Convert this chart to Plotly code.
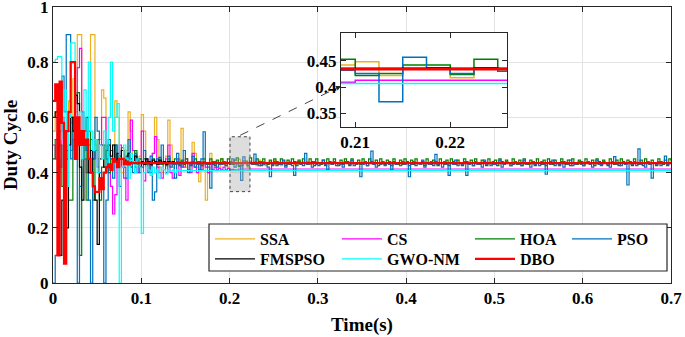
import numpy as np
import plotly.graph_objects as go

DT = 0.0025
T_END = 0.7

NAMES = ["SSA", "CS", "HOA", "PSO", "FMSPSO", "GWO-NM", "DBO"]
COLORS = ["#EDB120", "#FF00FF", "#008000", "#0072BD", "#000000", "#00FFFF", "#FF0000"]

SSA = [0.55, 0.62, 0.48, 0.70, 0.52, 0.60, 0.45, 0.66, 0.58, 0.74,
       0.62, 0.90, 0.90, 0.55, 0.48, 0.52, 0.60, 0.90, 0.90, 0.50,
       0.45, 0.52, 0.70, 0.67, 0.48, 0.42, 0.45, 0.50, 0.66, 0.60,
       0.45, 0.40, 0.44, 0.48, 0.62, 0.55, 0.44, 0.40, 0.43, 0.46,
       0.61, 0.55, 0.43, 0.41, 0.44, 0.47, 0.60, 0.52, 0.42, 0.40,
       0.44, 0.46, 0.59, 0.50, 0.42, 0.40, 0.43, 0.45, 0.56, 0.48,
       0.42, 0.41, 0.44, 0.51, 0.47, 0.42, 0.367, 0.41, 0.44, 0.30,
       0.40, 0.47, 0.44, 0.43, 0.44, 0.42, 0.45, 0.43, 0.44, 0.42,
       0.44, 0.43, 0.445, 0.442, 0.448, 0.422, 0.436, 0.436, 0.418, 0.436,
       0.43, 0.44, 0.425, 0.445, 0.43, 0.44, 0.425, 0.435, 0.44, 0.43,
       0.445, 0.43, 0.435, 0.425, 0.44, 0.435, 0.43, 0.44, 0.435, 0.43,
       0.44, 0.435, 0.43, 0.44, 0.435, 0.44, 0.43, 0.435, 0.44, 0.435, 0.435]

CS = [0.50, 0.45, 0.55, 0.42, 0.60, 0.50, 0.45, 0.55, 0.48, 0.52,
      0.60, 0.78, 0.85, 0.50, 0.45, 0.40, 0.50, 0.52, 0.45, 0.48,
      0.42, 0.50, 0.60, 0.60, 0.45, 0.40, 0.35, 0.25, 0.32, 0.45,
      0.50, 0.42, 0.38, 0.30, 0.45, 0.59, 0.48, 0.42, 0.40, 0.45,
      0.55, 0.37, 0.45, 0.43, 0.40, 0.47, 0.53, 0.42, 0.40, 0.38,
      0.44, 0.45, 0.50, 0.40, 0.38, 0.43, 0.45, 0.39, 0.44, 0.42,
      0.45, 0.41, 0.40, 0.47, 0.42, 0.40, 0.43, 0.41, 0.44, 0.42,
      0.40, 0.43, 0.41, 0.42, 0.41, 0.415, 0.41, 0.42, 0.41, 0.415,
      0.41, 0.412, 0.41, 0.409, 0.413]

HOA = [0.45, 0.52, 0.40, 0.50, 0.35, 0.55, 0.48, 0.30, 0.30, 0.60,
       0.68, 0.69, 0.10, 0.45, 0.52, 0.30, 0.55, 0.40, 0.30, 0.48,
       0.52, 0.30, 0.42, 0.50, 0.45, 0.40, 0.48, 0.44, 0.50, 0.42,
       0.46, 0.49, 0.43, 0.45, 0.47, 0.42, 0.44, 0.48, 0.43, 0.45,
       0.44, 0.45, 0.43, 0.44, 0.425, 0.45, 0.44, 0.43, 0.455, 0.43,
       0.44, 0.425, 0.45, 0.435, 0.43, 0.45, 0.44, 0.425, 0.445, 0.43,
       0.45, 0.435, 0.425, 0.44, 0.45, 0.43, 0.44, 0.425, 0.45, 0.435,
       0.43, 0.45, 0.44, 0.425, 0.445, 0.43, 0.45, 0.435, 0.425, 0.45,
       0.44, 0.43, 0.445, 0.453, 0.422, 0.426, 0.442, 0.442, 0.424, 0.453,
       0.435, 0.43, 0.45, 0.44, 0.425, 0.45, 0.435, 0.43, 0.445, 0.425,
       0.45, 0.44, 0.43, 0.45, 0.435, 0.425, 0.445, 0.43, 0.45, 0.44,
       0.425, 0.445, 0.43, 0.45, 0.435, 0.43, 0.45, 0.44, 0.425, 0.45,
       0.435, 0.43, 0.445, 0.425, 0.45, 0.44, 0.43, 0.45, 0.435, 0.425,
       0.445, 0.43, 0.45, 0.44, 0.425, 0.45, 0.435, 0.43, 0.445, 0.43,
       0.45, 0.435, 0.425, 0.45, 0.44, 0.43, 0.445, 0.425, 0.45, 0.435,
       0.43, 0.445, 0.44, 0.425, 0.45, 0.435, 0.43, 0.445, 0.43, 0.45,
       0.44, 0.425, 0.445, 0.43, 0.45, 0.435, 0.43, 0.44, 0.425, 0.45,
       0.435, 0.43, 0.445, 0.44, 0.425, 0.45, 0.435, 0.43, 0.445, 0.425,
       0.45, 0.44, 0.43, 0.445, 0.435, 0.425, 0.45, 0.44, 0.43, 0.445,
       0.425, 0.45, 0.435, 0.43, 0.445, 0.44, 0.425, 0.45, 0.435, 0.43,
       0.445, 0.425, 0.45, 0.44, 0.43, 0.445, 0.435, 0.425, 0.45, 0.44,
       0.43, 0.445, 0.425, 0.45, 0.435, 0.43, 0.445, 0.44, 0.425, 0.45,
       0.435, 0.43, 0.445, 0.425, 0.45, 0.44, 0.43, 0.445, 0.435, 0.425,
       0.45, 0.44, 0.43, 0.445, 0.425, 0.45, 0.435, 0.43, 0.445, 0.44,
       0.425, 0.45, 0.435, 0.43, 0.445, 0.425, 0.45, 0.44, 0.43, 0.445,
       0.435, 0.425, 0.45, 0.44, 0.43, 0.445, 0.425, 0.45, 0.435, 0.43,
       0.445, 0.44, 0.425, 0.45, 0.435, 0.43, 0.445, 0.425, 0.45, 0.44,
       0.43, 0.445, 0.435, 0.425, 0.45, 0.44, 0.43, 0.445, 0.425, 0.45, 0.44]

PSO = [0.0, 0.1, 0.1, 0.55, 0.75, 0.62, 0.9, 0.9, 0.45, 0.6,
       0.5, 0.0, 0.35, 0.62, 0.55, 0.48, 0.3, 0.0, 0.45, 0.6,
       0.55, 0.4, 0.35, 0.0, 0.3, 0.52, 0.45, 0.38, 0.5, 0.44,
       0.35, 0.48, 0.42, 0.38, 0.52, 0.44, 0.4, 0.47, 0.44, 0.4,
       0.42, 0.48, 0.44, 0.4, 0.46, 0.3, 0.33, 0.45, 0.43, 0.5,
       0.44, 0.4, 0.46, 0.42, 0.44, 0.38, 0.47, 0.43, 0.42, 0.48,
       0.44, 0.4, 0.43, 0.46, 0.42, 0.44, 0.41, 0.45, 0.548, 0.43,
       0.42, 0.344, 0.43, 0.44, 0.42, 0.435, 0.43, 0.44, 0.425, 0.435,
       0.43, 0.45, 0.42, 0.432, 0.426, 0.372, 0.457, 0.437, 0.426, 0.437,
       0.43, 0.467, 0.43, 0.425, 0.44, 0.43, 0.435, 0.42, 0.385, 0.43,
       0.44, 0.425, 0.435, 0.43, 0.445, 0.42, 0.435, 0.43, 0.425, 0.39,
       0.435, 0.44, 0.43, 0.425, 0.47, 0.43, 0.435, 0.42, 0.44, 0.43,
       0.425, 0.435, 0.445, 0.43, 0.41, 0.435, 0.43, 0.44, 0.425, 0.435,
       0.43, 0.42, 0.44, 0.435, 0.43, 0.445, 0.425, 0.43, 0.435, 0.385,
       0.43, 0.44, 0.425, 0.435, 0.478, 0.43, 0.42, 0.435, 0.43, 0.44,
       0.425, 0.435, 0.43, 0.41, 0.44, 0.43, 0.435, 0.425, 0.44, 0.43,
       0.435, 0.385, 0.43, 0.44, 0.425, 0.435, 0.43, 0.445, 0.42, 0.435,
       0.43, 0.44, 0.425, 0.466, 0.43, 0.435, 0.42, 0.44, 0.43, 0.39,
       0.435, 0.43, 0.445, 0.425, 0.435, 0.43, 0.44, 0.39, 0.43, 0.435,
       0.425, 0.44, 0.43, 0.435, 0.42, 0.445, 0.43, 0.435, 0.425, 0.44,
       0.43, 0.435, 0.445, 0.42, 0.43, 0.44, 0.435, 0.425, 0.43, 0.44,
       0.435, 0.43, 0.425, 0.445, 0.43, 0.435, 0.42, 0.44, 0.43, 0.435,
       0.425, 0.44, 0.43, 0.394, 0.435, 0.43, 0.445, 0.425, 0.435, 0.43,
       0.44, 0.42, 0.435, 0.43, 0.445, 0.425, 0.43, 0.435, 0.44, 0.43,
       0.425, 0.435, 0.44, 0.43, 0.42, 0.435, 0.445, 0.43, 0.425, 0.44,
       0.435, 0.43, 0.42, 0.44, 0.458, 0.43, 0.435, 0.425, 0.44, 0.43,
       0.355, 0.435, 0.43, 0.44, 0.425, 0.486, 0.43, 0.435, 0.42, 0.44,
       0.43, 0.38, 0.435, 0.43, 0.44, 0.425, 0.435, 0.46, 0.43, 0.435, 0.43]

FMSPSO = [0.60, 0.62, 0.45, 0.10, 0.30, 0.45, 0.20, 0.50, 0.60, 0.55,
          0.68, 0.65, 0.42, 0.30, 0.55, 0.60, 0.40, 0.48, 0.35, 0.30,
          0.14, 0.45, 0.50, 0.42, 0.48, 0.50, 0.46, 0.50, 0.44, 0.47,
          0.45, 0.48, 0.43, 0.46, 0.47, 0.45, 0.44, 0.46, 0.45, 0.42,
          0.44, 0.43, 0.45, 0.44, 0.43, 0.445, 0.44, 0.43, 0.445, 0.435,
          0.44, 0.43, 0.44, 0.435, 0.44, 0.436]

GWO_NM = [0.80, 0.81, 0.82, 0.82, 0.52, 0.70, 0.35, 0.60, 0.87, 0.87,
          0.50, 0.55, 0.62, 0.45, 0.70, 0.50, 0.80, 0.55, 0.48, 0.52,
          0.40, 0.50, 0.45, 0.55, 0.42, 0.60, 0.80, 0.55, 0.60, 0.65,
          0.0, 0.42, 0.50, 0.45, 0.38, 0.47, 0.44, 0.40, 0.45, 0.42,
          0.18, 0.40, 0.42, 0.41, 0.39, 0.42, 0.40, 0.41, 0.38, 0.42,
          0.41, 0.395, 0.41, 0.405, 0.41, 0.40, 0.41, 0.407]

DBO = [0.66, 0.72, 0.10, 0.73, 0.58, 0.07, 0.55, 0.62, 0.80, 0.80,
       0.45, 0.60, 0.50, 0.55, 0.50, 0.52, 0.45, 0.40, 0.35, 0.33,
       0.33, 0.38, 0.34, 0.40, 0.42, 0.43, 0.41, 0.45, 0.44, 0.42,
       0.45, 0.45, 0.43, 0.44, 0.43, 0.435, 0.434]

SERIES = [SSA, CS, HOA, PSO, FMSPSO, GWO_NM, DBO]
WIDTHS = [1.2, 1.2, 1.2, 1.2, 1.2, 1.2, 2.2]

X_TICKS = [0, 0.1, 0.2, 0.3, 0.4, 0.5, 0.6, 0.7]
Y_TICKS = [0, 0.2, 0.4, 0.6, 0.8, 1]
Y_TICK_TEXT = ["0", "0.2", "0.4", "0.6", "0.8", "1"]
INSET_X_TICKS = [0.21, 0.22]
INSET_Y_TICKS = [0.35, 0.4, 0.45]

FONT = "Liberation Serif"

# plot-area geometry (pixels) used for paper-coordinate placement
L, R, T, B = 53, 14, 7, 54
PW, PH = 685 - L - R, 337 - T - B


def px_x(p):
    return (p - L) / PW


def px_y(p):
    return (337 - B - p) / PH


def step_xy(vals):
    t = np.arange(len(vals)) * DT
    return np.append(t, T_END), np.append(vals, vals[-1])


# legend slot for every series: (left px of legend, top px)
LEG_COL = [210, 337, 470, 567, 210, 337, 470]
LEG_ROW = [222, 222, 222, 222, 242, 242, 242]
LEG_KEYS = ["legend"] + ["legend%d" % i for i in range(2, 8)]

fig = go.Figure()
for i, (name, vals, col, w) in enumerate(zip(NAMES, SERIES, COLORS, WIDTHS)):
    x, y = step_xy(vals)
    fig.add_trace(go.Scatter(x=x, y=y, mode="lines", name=name, legend=LEG_KEYS[i],
                             line=dict(color=col, width=w, shape="hv")))
for name, vals, col, w in zip(NAMES, SERIES, COLORS, WIDTHS):
    x, y = step_xy(vals)
    fig.add_trace(go.Scatter(x=x, y=y, mode="lines", name=name, showlegend=False,
                             xaxis="x2", yaxis="y2",
                             line=dict(color=col, width=w + 0.3, shape="hv")))

tickfont = dict(family=FONT, size=17, color="#000", weight="bold")
axline = dict(showline=True, linecolor="#262626", linewidth=1, mirror="allticks",
              ticks="inside", ticklen=5, tickcolor="#262626", zeroline=False,
              automargin=False, ticklabeloverflow="allow")

fig.update_layout(
    width=685, height=337,
    margin=dict(l=L, r=R, t=T, b=B),
    paper_bgcolor="white", plot_bgcolor="white",
    xaxis=dict(domain=[0, 1], range=[0, 0.7], tickvals=X_TICKS, showgrid=True,
               gridcolor="#e3e3e3", tickfont=tickfont,
               title=dict(text="Time(s)", standoff=10,
                          font=dict(family=FONT, size=19, color="#000", weight="bold")),
               **axline),
    yaxis=dict(domain=[0, 1], range=[0, 1], tickvals=Y_TICKS, ticktext=Y_TICK_TEXT,
               showgrid=True, gridcolor="#e3e3e3", tickfont=tickfont,
               title=dict(text="Duty Cycle", standoff=6,
                          font=dict(family=FONT, size=19, color="#000", weight="bold")),
               **axline),
    xaxis2=dict(domain=[0.466, 0.735], anchor="y2", range=[0.2085, 0.226],
                tickvals=INSET_X_TICKS, showgrid=False, tickfont=tickfont, **axline),
    yaxis2=dict(domain=[0.565, 0.906], anchor="x2", range=[0.324, 0.503],
                tickvals=INSET_Y_TICKS, showgrid=False, tickfont=tickfont, **axline),
    showlegend=True,
)

leg_common = dict(bgcolor="rgba(0,0,0,0)", borderwidth=0, itemwidth=40,
                  font=dict(family=FONT, size=16, color="#000", weight="bold"),
                  xanchor="left", yanchor="top", orientation="v")
for i, key in enumerate(LEG_KEYS):
    fig.update_layout({key: dict(x=px_x(LEG_COL[i]), y=px_y(LEG_ROW[i]), **leg_common)})

# legend frame
fig.add_shape(type="rect", xref="paper", yref="paper",
              x0=px_x(209), x1=px_x(667), y0=px_y(271), y1=px_y(224),
              fillcolor="white", line=dict(color="#262626", width=1.2), layer="above")

# zoom region marker
fig.add_shape(type="rect", xref="x", yref="y", x0=0.2005, x1=0.2231, y0=0.331, y1=0.53,
              fillcolor="rgba(170,170,170,0.4)", line=dict(color="#444", width=1, dash="dot"),
              layer="above")
fig.add_shape(type="line", xref="x", yref="y", x0=0.212, y0=0.535, x1=0.3245, y1=0.711,
              line=dict(color="#444", width=1, dash="dash"), layer="above")
fig.add_annotation(x=0.3262, y=0.714, ax=0.318, ay=0.701, xref="x", yref="y",
                   axref="x", ayref="y", showarrow=True, arrowhead=2, arrowsize=1,
                   arrowwidth=1, arrowcolor="#222", text="")

fig.write_html("out.html", config={"displayModeBar": False},
               post_script="document.body.style.margin='0';document.body.style.padding='0';")
